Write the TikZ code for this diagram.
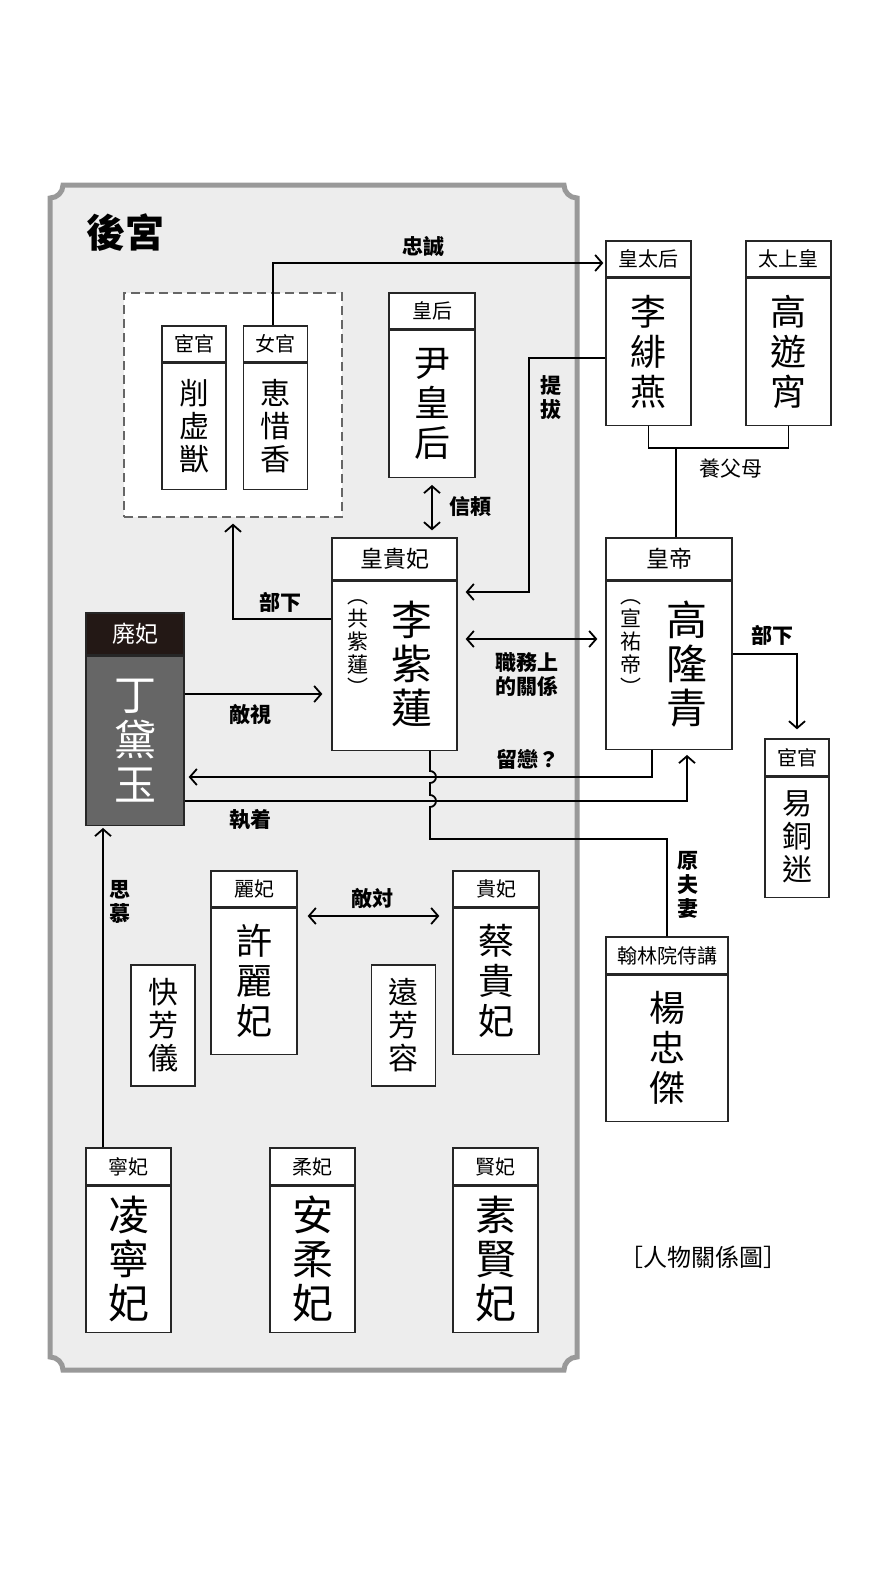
\documentclass[tikz,border=0pt]{standalone}
\usepackage{fontspec}
\newfontfamily\cjk{Noto Sans CJK TC}
\usetikzlibrary{arrows.meta}

\definecolor{DeposedTop}{HTML}{231815}
\definecolor{DeposedBody}{HTML}{666666}

\begin{document}
\begin{tikzpicture}[
      x = 1pt, y = -1pt,
      Frame/.style = {draw = black!40, line width = 5pt, fill = black!7},
      Staff/.style = {draw = black!60, dash pattern = on 9pt off 5pt, line width = 1.3pt, fill = white, inner sep = 0pt},
      Head/.style = {draw = black!85, fill = white, line width = 1.3pt, inner sep = 0pt, minimum height = 36pt, font = \cjk\fontsize{20}{20}\selectfont},
      BigHead/.style = {Head, minimum height = 42pt, font = \cjk\fontsize{23}{23}\selectfont},
      Body/.style = {draw = black!85, fill = white, line width = 1.3pt, inner sep = 0pt, align = center, anchor = north},
      NameL/.style = {align = center, font = \cjk\fontsize{41}{44}\selectfont},
      NameM/.style = {align = center, font = \cjk\fontsize{36}{40}\selectfont},
      NameS/.style = {align = center, font = \cjk\fontsize{30}{33}\selectfont},
      Alias/.style = {align = center, font = \cjk\fontsize{21}{23}\selectfont},
      Label/.style = {align = center, font = \cjk\bfseries\fontsize{21}{24}\selectfont},
      Link/.style = {draw, line width = 1.8pt},
      Line/.style = {Link, -{Straight Barb[length = 7pt, width = 16pt]}},
      Both/.style = {Link, {Straight Barb[length = 7pt, width = 16pt]}-{Straight Barb[length = 7pt, width = 16pt]}}
    ]
    \path [fill = white] (0,0) rectangle (886,1576);
    \useasboundingbox (0,0) rectangle (886,1576);

    % inner palace
    \draw [Frame] (63,185) -- (564,185) arc[start angle = 180, end angle = 90, radius = 13]
      -- (577,1357) arc[start angle = 270, end angle = 180, radius = 13]
      -- (63,1370) arc[start angle = 0, end angle = -90, radius = 13]
      -- (50,198) arc[start angle = 90, end angle = 0, radius = 13] -- cycle;
    \node at (125,233) [font = \cjk\bfseries\fontsize{39}{39}\selectfont] (Title) {後宮};

    \node at (233,405) [Staff, minimum width = 218pt, minimum height = 224pt] (Staff) {};
    \node at (194,344) [Head, minimum width = 64pt] (hXue) {宦官};
    \node at (hXue.south) [Body, NameS, minimum width = 64pt, minimum height = 126pt] (Xue) {削\\虚\\獣};
    \node at (275.5,344) [Head, minimum width = 64pt] (hHui) {女官};
    \node at (hHui.south) [Body, NameS, minimum width = 64pt, minimum height = 126pt] (Hui) {恵\\惜\\香};

    \node at (432,311) [Head, minimum width = 86pt] (hYin) {皇后};
    \node at (hYin.south) [Body, NameM, minimum width = 86pt, minimum height = 147pt] (Yin) {尹\\皇\\后};

    \node at (394.5,559) [BigHead, minimum width = 125pt] (hZilian) {皇貴妃};
    \node at (hZilian.south) [Body, minimum width = 125pt, minimum height = 169pt] (Zilian) {};
    \node at (412,664) [NameL] (ZilianName) {李\\紫\\蓮};
    \node at (358,648) [Alias] (ZilianAlias) {︵\\共\\紫\\蓮\\︶};

    \node at (135,634) [BigHead, fill = DeposedTop, text = white, minimum width = 98pt] (hDaiyu) {廃妃};
    \node at (hDaiyu.south) [Body, fill = DeposedBody, text = white, align = center, font = \cjk\fontsize{42}{45}\selectfont, minimum width = 98pt, minimum height = 169pt] (Daiyu) {丁\\黛\\玉};

    \node at (254,889) [Head, minimum width = 86pt] (hXu) {麗妃};
    \node at (hXu.south) [Body, NameM, minimum width = 86pt, minimum height = 146pt] (Xu) {許\\麗\\妃};
    \node at (496,889) [Head, minimum width = 86pt] (hCai) {貴妃};
    \node at (hCai.south) [Body, NameM, minimum width = 86pt, minimum height = 146pt] (Cai) {蔡\\貴\\妃};
    \node at (163,1025.5) [Body, NameS, anchor = center, minimum width = 64pt, minimum height = 121pt] (Kuai) {快\\芳\\儀};
    \node at (403.5,1025.5) [Body, NameS, anchor = center, minimum width = 64pt, minimum height = 121pt] (Yuan) {遠\\芳\\容};

    \node at (128.5,1166.5) [Head, minimum width = 85pt, minimum height = 37pt] (hLing) {寧妃};
    \node at (hLing.south) [Body, NameL, minimum width = 85pt, minimum height = 146pt] (Ling) {凌\\寧\\妃};
    \node at (312.5,1166.5) [Head, minimum width = 85pt, minimum height = 37pt] (hAn) {柔妃};
    \node at (hAn.south) [Body, NameL, minimum width = 85pt, minimum height = 146pt] (An) {安\\柔\\妃};
    \node at (495.5,1166.5) [Head, minimum width = 85pt, minimum height = 37pt] (hSu) {賢妃};
    \node at (hSu.south) [Body, NameL, minimum width = 85pt, minimum height = 146pt] (Su) {素\\賢\\妃};

    % outside
    \node at (648.5,259) [Head, minimum width = 85pt] (hFei) {皇太后};
    \node at (hFei.south) [Body, NameM, minimum width = 85pt, minimum height = 147pt] (Fei) {李\\緋\\燕};
    \node at (788.5,259) [Head, minimum width = 85pt] (hYou) {太上皇};
    \node at (hYou.south) [Body, NameM, minimum width = 85pt, minimum height = 147pt] (You) {高\\遊\\宵};

    \node at (669,559) [BigHead, minimum width = 126pt] (hLongqing) {皇帝};
    \node at (hLongqing.south) [Body, minimum width = 126pt, minimum height = 168pt] (Longqing) {};
    \node at (687,664) [NameL] (LongqingName) {高\\隆\\青};
    \node at (631,648) [Alias] (LongqingAlias) {︵\\宣\\祐\\帝\\︶};

    \node at (797,757.5) [Head, minimum width = 64pt, minimum height = 37pt] (hTongmi) {宦官};
    \node at (hTongmi.south) [Body, NameS, minimum width = 64pt, minimum height = 120pt] (Tongmi) {易\\銅\\迷};
    \node at (667,955.5) [Head, minimum width = 122pt, minimum height = 37pt] (hZhongjie) {翰林院侍講};
    \node at (hZhongjie.south) [Body, NameM, minimum width = 122pt, minimum height = 146pt] (Zhongjie) {楊\\忠\\傑};

    % relations
    \coordinate (cLoyal) at (273,263);
    \coordinate (cPromA) at (529,358);
    \coordinate (cPromB) at (529,592);
    \coordinate (cSubA) at (234,619);
    \coordinate (cHost) at (0,694);
    \coordinate (cDuty) at (0,639);
    \coordinate (cLinger) at (652,777);
    \coordinate (cObs) at (687,801);
    \coordinate (cSubB) at (797,654);
    \coordinate (cEx) at (430,839);
    \coordinate (cAdopt) at (676,448);
    \coordinate (cAdm) at (103,0);
    \coordinate (cRiv) at (0,916);

    \path [Line, shorten > = 2pt] (hHui.north -| cLoyal) |- (hFei.west |- cLoyal);
    \path [Line, shorten > = 8pt] (Fei.west |- cPromA) -- (cPromA) -- (cPromB) -- (Zilian.east |- cPromB);
    \path [Both, shorten < = 7pt, shorten > = 7pt] (Yin.south) -- (Yin.south |- hZilian.north);
    \path [Line, shorten > = 6pt] (Zilian.west |- cSubA) -| (Staff.south);
    \path [Line, shorten > = 9pt] (Daiyu.east |- cHost) -- (Zilian.west |- cHost);
    \path [Both, shorten < = 8pt, shorten > = 8pt] (Zilian.east |- cDuty) -- (Longqing.west |- cDuty);
    \path [Line, shorten > = 4pt] (Longqing.south -| cLinger) |- (Daiyu.east |- cLinger);
    \path [Line, shorten > = 5pt] (Daiyu.east |- cObs) -| (Longqing.south -| cObs);
    \path [Line, shorten > = 9pt] (Longqing.east |- cSubB) -| (hTongmi.north);
    \path [Link] (Zilian.south -| cEx) -- (430,771) arc[start angle = -90, end angle = 90, radius = 6]
      -- (430,795) arc[start angle = -90, end angle = 90, radius = 6] -- (cEx) -| (hZhongjie.north);
    \path [Link] (Fei.south) |- (cAdopt) -| (You.south);
    \path [Link] (cAdopt) -- (cAdopt |- hLongqing.north);
    \path [Line, shorten > = 2pt] (hLing.north -| cAdm) -- (Daiyu.south -| cAdm);
    \path [Both, shorten < = 10pt, shorten > = 13pt] (Xu.east |- cRiv) -- (Cai.west |- cRiv);

    \node at (423,247) [Label] (lLoyal) {忠誠};
    \node at (551,398) [Label] (lPromote) {提\\拔};
    \node at (470,507) [Label] (lTrust) {信頼};
    \node at (280,602) [Label] (lSubA) {部下};
    \node at (250,715) [Label] (lHostile) {敵視};
    \node at (250,820) [Label] (lObsess) {執着};
    \node at (527,675) [Label] (lDuty) {職務上\\的關係};
    \node at (528,759) [Label] (lLinger) {留戀？};
    \node at (772,635) [Label] (lSubB) {部下};
    \node at (731,469) [font = \cjk\fontsize{21}{21}\selectfont] (lAdopt) {養父母};
    \node at (688,885) [Label] (lEx) {原\\夫\\妻};
    \node at (120,902) [Label] (lAdmire) {思\\慕};
    \node at (372,898) [Label] (lRival) {敵対};
    \node at (703,1257) [font = \cjk\fontsize{24}{24}\selectfont] (Caption) {［人物關係圖］};
  \end{tikzpicture}
\end{document}
